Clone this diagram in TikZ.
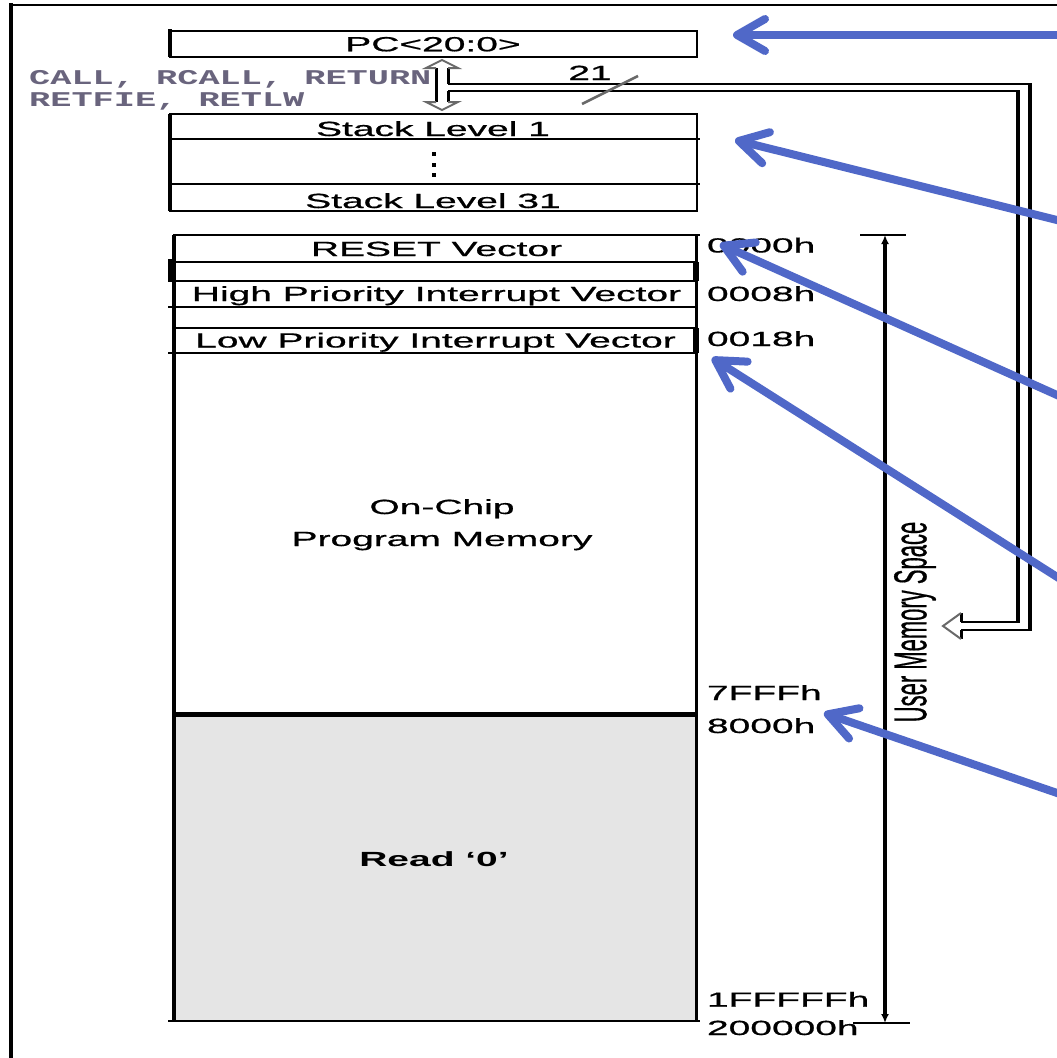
\documentclass[tikz,border=0pt]{standalone}
\usepackage{fontspec}
\setmainfont{Liberation Sans}
\newfontfamily\monof{Liberation Mono}
\newfontfamily\lblf{Liberation Sans}[FakeBold=0.6]
\usetikzlibrary{arrows.meta}
\definecolor{annblue}{RGB}{80,104,200}
\definecolor{readgray}{RGB}{229,229,229}
\definecolor{callgray}{RGB}{105,100,125}
\definecolor{headgray}{RGB}{105,105,105}
\newcommand{\wtxt}[1]{\scalebox{1.9}[1]{#1}}
\begin{document}
\begin{tikzpicture}[x=1pt,y=-1pt,
  box/.style={draw=black, line width=2.5pt, inner sep=0pt, outer sep=0pt},
  lbl/.style={inner sep=0pt, outer sep=0pt, font=\lblf\fontsize{20.5}{24}\selectfont},
  rowline/.style={line width=2.5pt},
  thickedge/.style={line width=4pt},
  headline/.style={draw=headgray, line width=2pt, line join=miter},
  bus/.style={line width=2pt},
  busv/.style={line width=3.5pt},
  annot/.style={draw=annblue, line width=8pt, line cap=round, -{Straight Barb[length=28pt,width=32pt,round]}},
]
\useasboundingbox (0,0) rectangle (1057,1058);
\fill[white] (0,0) rectangle (1057,1058);

% outer frame
\draw[line width=3.7pt] (11,3) -- (11,1062);
\draw[line width=2pt] (10,5) -- (1062,5);

% PC box
\node[box, minimum width=527pt, minimum height=26pt] (pc) at (433.5,44) {};
\draw[thickedge] (170,29) -- (170,57);
\node[lbl, anchor=base] (pct) at (433,51.3) {\wtxt{PC<20:0>}};

% CALL text
\node[anchor=base west, inner sep=0pt, text=callgray, font=\monof\bfseries\fontsize{21}{24}\selectfont] (call1) at (29,84) {\scalebox{1.68}[1]{CALL, RCALL, RETURN}};
\node[anchor=base west, inner sep=0pt, text=callgray, font=\monof\bfseries\fontsize{21}{24}\selectfont] (call2) at (29,106) {\scalebox{1.68}[1]{RETFIE, RETLW}};

% Stack box
\node[box, minimum width=527pt, minimum height=97pt] (stk) at (433.5,162.5) {};
\draw[thickedge] (170,114) -- (170,211);
\draw[rowline] (170,139) -- (700,139);
\draw[rowline] (170,184) -- (700,184);
\node[lbl, anchor=base] (s1) at (433,136) {\wtxt{Stack Level 1}};
\node[lbl, anchor=base] (s31) at (433,208) {\wtxt{Stack Level 31}};
\fill (432,152) rectangle +(4,4);
\fill (432,162.5) rectangle +(4,4);
\fill (432,173) rectangle +(4,4);

% double hollow arrow PC <-> stack
\draw[line width=3pt] (436,68) -- (436,102);
\draw[line width=3pt] (448,68) -- (448,84);
\draw[line width=3pt] (448,91) -- (448,102);
\draw[headline] (436,68) -- (426,68) -- (442,60) -- (458,68) -- (448,68);
\draw[headline] (436,102) -- (426,102) -- (442,110) -- (458,102) -- (448,102);

% bus to user memory space
\draw[bus] (448,84) -- (1031.5,84);
\draw[bus] (448,91) -- (1019.5,91);
\draw[busv] (1030,83) -- (1030,631);
\draw[busv] (1018,90) -- (1018,623);
\draw[bus] (1031.5,630) -- (961,630);
\draw[bus] (1019.5,622) -- (961,622);
\draw[line width=3pt] (961,613) -- (961,622);
\draw[line width=3pt] (961,630) -- (961,639);
\draw[headline] (961,613) -- (943,626) -- (961,639);

% bus width label
\draw[headgray, line width=2.5pt] (582,104) -- (638,76);
\node[lbl, anchor=base] (n21) at (590,80) {\wtxt{21}};

% memory
\fill[readgray] (174,714) rectangle (696.5,1021);
\node[box, minimum width=522.5pt, minimum height=786pt] (mem) at (435.25,628) {};
\draw[thickedge] (174,235) -- (174,1021);
\draw[line width=3.5pt] (696.5,235) -- (696.5,1021);
\draw[rowline] (696,235) -- (700,235);
\draw[rowline] (174,262) -- (696.5,262);
\draw[rowline] (174,281) -- (696.5,281);
\draw[rowline] (168,307) -- (696.5,307);
\draw[rowline] (174,328) -- (696.5,328);
\draw[rowline] (168,353) -- (696.5,353);
\draw[rowline] (168,1021) -- (700,1021);
\draw[line width=5pt] (174,714) -- (696.5,714);
\fill (168,259) rectangle (174,282);
\fill (693,262) rectangle (698.5,281);
\fill (693,328) rectangle (698.5,353);

\node[lbl, anchor=base] (rv) at (436.5,256) {\wtxt{RESET Vector}};
\node[lbl, anchor=base] (hv) at (436.5,301) {\wtxt{High Priority Interrupt Vector}};
\node[lbl, anchor=base] (lv) at (435.5,347.5) {\wtxt{Low Priority Interrupt Vector}};
\node[lbl, anchor=base] (oc1) at (442,514) {\wtxt{On-Chip}};
\node[lbl, anchor=base] (oc2) at (442,546) {\wtxt{Program Memory}};
\node[lbl, anchor=base, font=\fontsize{20.5}{24}\selectfont\bfseries] (rd) at (434,866.7) {\wtxt{Read `0'}};

% addresses
\node[lbl, anchor=base west] (a0) at (707,252.5) {\wtxt{0000h}};
\node[lbl, anchor=base west] (a8) at (707,301) {\wtxt{0008h}};
\node[lbl, anchor=base west] (a18) at (707,346) {\wtxt{0018h}};
\node[lbl, anchor=base west] (a7f) at (707,700) {\wtxt{7FFFh}};
\node[lbl, anchor=base west] (a80) at (707,733) {\wtxt{8000h}};
\node[lbl, anchor=base west] (a1f) at (707,1006.7) {\wtxt{1FFFFFh}};
\node[lbl, anchor=base west] (a20) at (707,1035) {\wtxt{200000h}};

% user memory space bracket
\coordinate (umt) at (885,235);
\coordinate (umb) at (885,1023);
\draw[line width=2pt] (860,235) -- (906,235);
\draw[line width=2pt] (853,1023) -- (910,1023);
\draw[line width=3.5pt, {Latex[length=9pt,width=8pt]}-{Latex[length=9pt,width=8pt]}] (umt) -- (umb);
\node[inner sep=0pt] (ums) at (915,622) {\scalebox{2.1}[1]{\rotatebox{90}{\lblf\fontsize{22}{26}\selectfont User Memory Space}}};

% blue annotation arrows
\coordinate (b1s) at (1065,35);    \coordinate (b1t) at (733,35);
\coordinate (b2s) at (1065,222);   \coordinate (b2t) at (735,140);
\coordinate (b3s) at (1065,398.6); \coordinate (b3t) at (720,244);
\coordinate (b4s) at (1065,582);   \coordinate (b4t) at (712,358);
\coordinate (b5s) at (1065,795.7); \coordinate (b5t) at (824,713);
\draw[annot] (b1s) -- (b1t);
\draw[annot] (b2s) -- (b2t);
\draw[annot] (b3s) -- (b3t);
\draw[annot] (b4s) -- (b4t);
\draw[annot] (b5s) -- (b5t);
\end{tikzpicture}
\end{document}
